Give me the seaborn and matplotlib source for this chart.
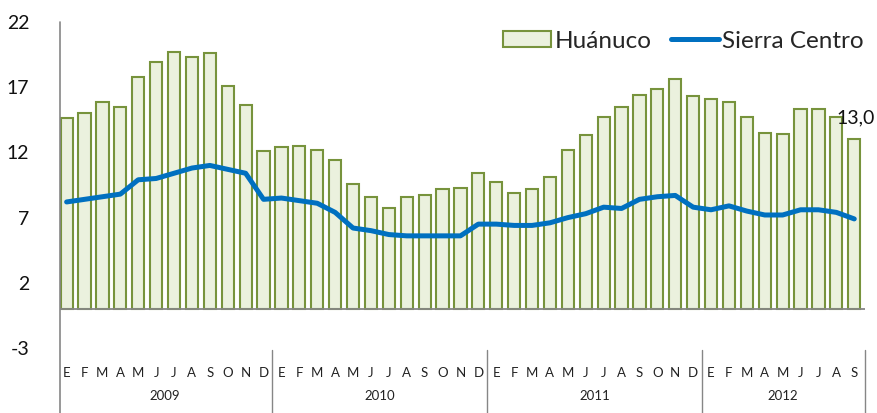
import numpy as np
import pandas as pd
import matplotlib
matplotlib.use("Agg")
import matplotlib.pyplot as plt
import seaborn as sns
from matplotlib.lines import Line2D
from matplotlib.patches import Patch

# Data
meses = ["E", "F", "M", "A", "M", "J", "J", "A", "S", "O", "N", "D"] * 3 + \
        ["E", "F", "M", "A", "M", "J", "J", "A", "S"]
anios = ["2009", "2010", "2011", "2012"]
meses_por_anio = [12, 12, 12, 9]

huanuco = [14.6, 15.0, 15.9, 15.5, 17.8, 18.9, 19.7, 19.3, 19.6, 17.1, 15.6, 12.1,
           12.4, 12.5, 12.2, 11.4, 9.6, 8.6, 7.7, 8.6, 8.7, 9.2, 9.3, 10.4,
           9.7, 8.9, 9.2, 10.1, 12.2, 13.3, 14.7, 15.5, 16.4, 16.9, 17.6, 16.3,
           16.1, 15.9, 14.7, 13.5, 13.4, 15.3, 15.3, 14.7, 13.0]
sierra_centro = [8.2, 8.4, 8.6, 8.8, 9.9, 10.0, 10.4, 10.8, 11.0, 10.7, 10.4, 8.4,
                 8.5, 8.3, 8.1, 7.4, 6.2, 6.0, 5.7, 5.6, 5.6, 5.6, 5.6, 6.5,
                 6.5, 6.4, 6.4, 6.6, 7.0, 7.3, 7.8, 7.7, 8.4, 8.6, 8.7, 7.8,
                 7.6, 7.9, 7.5, 7.2, 7.2, 7.6, 7.6, 7.4, 6.9]

df = pd.DataFrame({"idx": np.arange(len(huanuco)), "mes": meses,
                   "Huánuco": huanuco, "Sierra Centro": sierra_centro})

sns.set_style("white")
plt.rcParams["font.family"] = ["Lato", "DejaVu Sans"]
plt.rcParams["axes.unicode_minus"] = False

verde_borde = "#77933C"
verde_fondo = "#EBF1DE"
azul = "#0070C0"
gris = "#868686"

fig = plt.figure(figsize=(8.77, 4.13), dpi=100)
ax = fig.add_axes([60 / 877, 1 - 348 / 413, 805 / 877, 326 / 413])

sns.barplot(data=df, x="idx", y="Huánuco", color=verde_fondo, width=0.68,
            edgecolor=verde_borde, linewidth=1.5, saturation=1, ax=ax)
ax.plot(df["idx"], df["Sierra Centro"], color=azul, linewidth=3.6,
        solid_joinstyle="round", solid_capstyle="round")

ax.set_xlim(-0.37, 44.6)
ax.set_ylim(-3, 22)
ax.set_yticks([-3, 2, 7, 12, 17, 22])
ax.tick_params(axis="y", length=0, pad=22, labelsize=14, labelcolor="#111111")
ax.set_xticks([])
ax.set_xlabel("")
ax.set_ylabel("")
for s in ax.spines.values():
    s.set_visible(False)

# zero line and left axis
ax.axhline(0, color=gris, linewidth=1.3)
ax.plot([0, 0], [1, -0.2], transform=ax.transAxes, color=gris,
        linewidth=1.2, clip_on=False)

# month / year category axis
tr = ax.get_xaxis_transform()
for i, m in enumerate(meses):
    ax.text(i, -0.077, m, transform=tr, ha="center", va="center",
            fontsize=9.5, color="#222222")
start = 0
for a, n in zip(anios, meses_por_anio):
    ax.text(start + (n - 1) / 2, -0.148, a, transform=tr, ha="center",
            va="center", fontsize=9.5, color="#222222")
    sep = start + n - 0.5 if start + n < len(meses) else 44.6
    ax.plot([sep, sep], [-0.006, -0.2], transform=tr, color=gris,
            linewidth=1.0, clip_on=False)
    start += n

# data label for the last bar
ax.text(44.1, huanuco[-1] + 1.65, "13,0", ha="center", va="center",
        fontsize=14, color="#111111", clip_on=False)

handles = [Patch(facecolor=verde_fondo, edgecolor=verde_borde, linewidth=1.5),
           Line2D([], [], color=azul, linewidth=3.6)]
ax.legend(handles, ["Huánuco", "Sierra Centro"], ncol=2, frameon=False,
          loc="center right", bbox_to_anchor=(864 / 877, 1 - 41 / 413),
          bbox_transform=fig.transFigure, fontsize=17.5, borderpad=0,
          handlelength=2.0, handleheight=0.6, handletextpad=0.12,
          columnspacing=0.8, borderaxespad=0)

fig.savefig("out.png", dpi=100)
